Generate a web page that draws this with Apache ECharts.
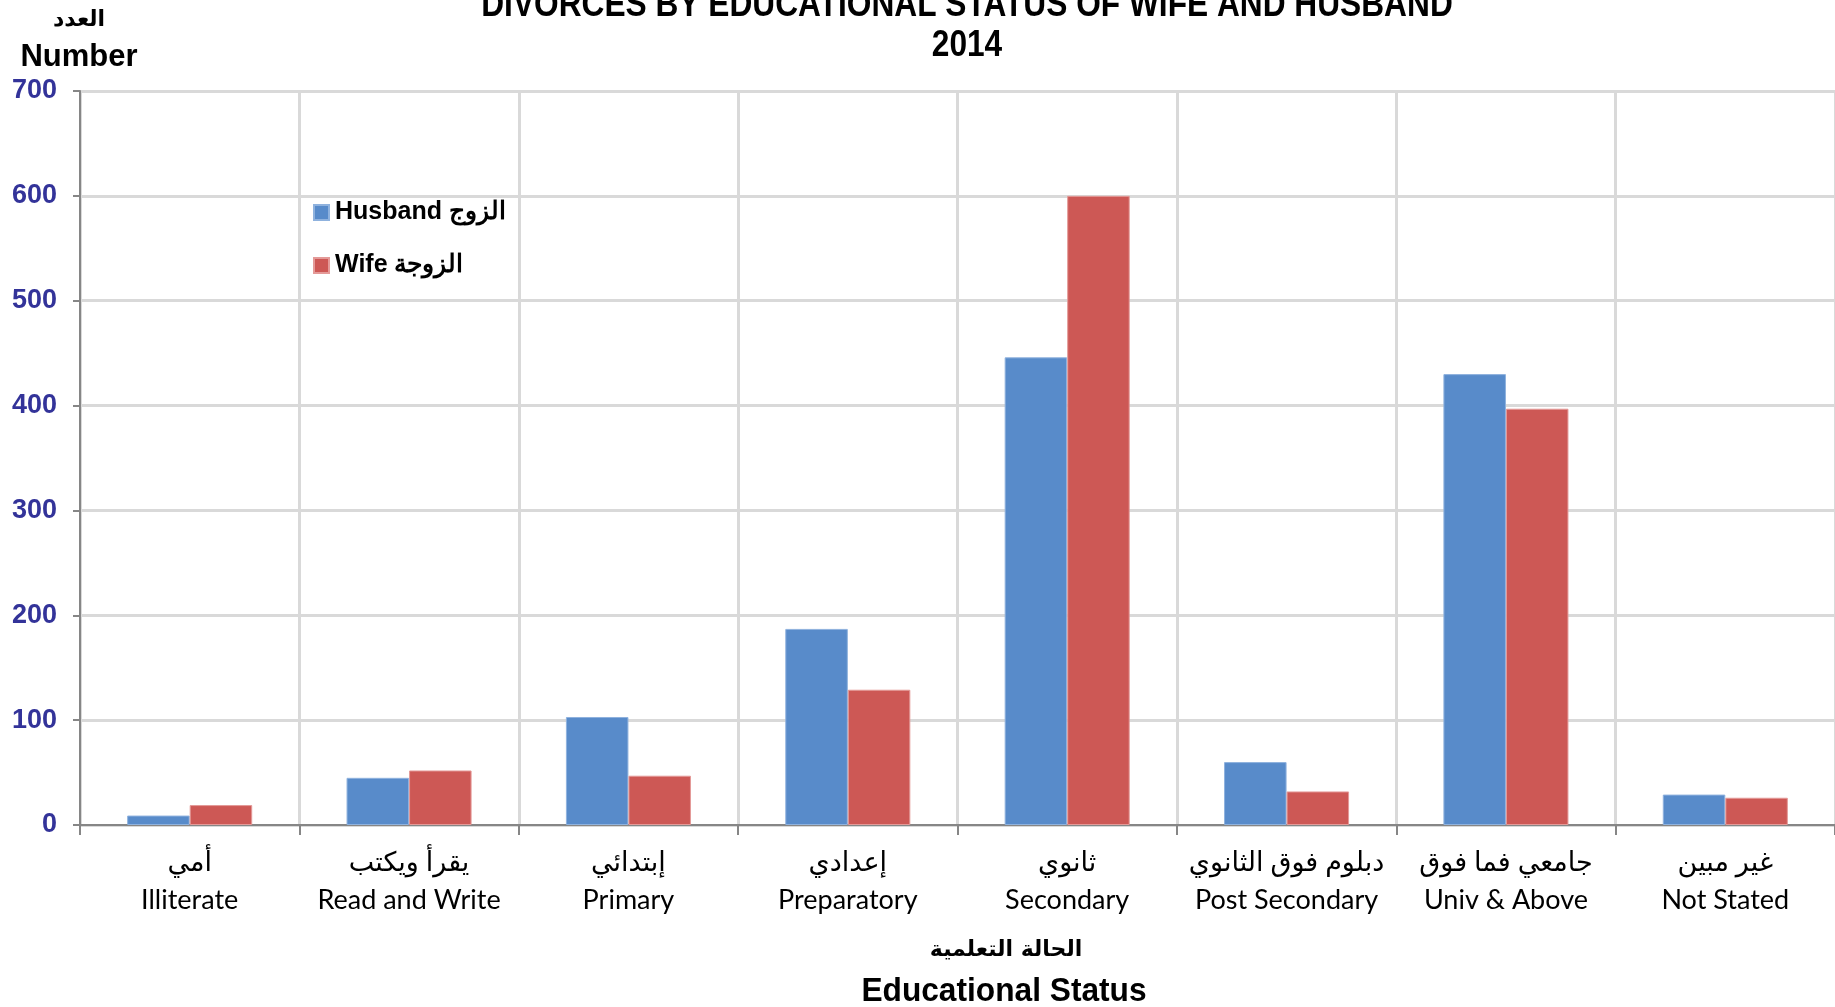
<!DOCTYPE html>
<html>
<head>
<meta charset="utf-8">
<script src="https://cdn.jsdelivr.net/npm/echarts@6/dist/echarts.min.js"></script>
<style>
  html, body { margin: 0; padding: 0; background: #fff; }
  #chart { width: 1835px; height: 1007px; }
</style>
</head>
<body>
<div id="chart"></div>
<script>
// categories: arabic + english
var categoriesAr = ['أمي', 'يقرأ ويكتب', 'إبتدائي', 'إعدادي', 'ثانوي', 'دبلوم فوق الثانوي', 'جامعي فما فوق', 'غير مبين'];
var categoriesEn = ['Illiterate', 'Read and Write', 'Primary', 'Preparatory', 'Secondary', 'Post Secondary', 'Univ & Above', 'Not Stated'];

var husband = [9, 45, 103, 187, 446, 60, 430, 29];
var wife = [19, 52, 47, 129, 600, 32, 397, 26];

var yTicks = [0, 100, 200, 300, 400, 500, 600, 700];

var categories = categoriesEn.map(function (en, i) {
    return categoriesAr[i] + '\n' + en;
});

var myChart = echarts.init(document.getElementById('chart'));

// narrow bold text (title looks like Arial Narrow in the original)
function narrowText(str, x, y, size, sx) {
    return {
        type: 'text', x: x, y: y, scaleX: sx, scaleY: 1,
        style: {
            text: str, fill: '#000',
            font: 'bold ' + size + 'px "Liberation Sans", Arial, sans-serif',
            align: 'center', verticalAlign: 'middle'
        }
    };
}

var option = {
    animation: false,
    graphic: [
        narrowText('DIVORCES BY EDUCATIONAL STATUS OF WIFE AND HUSBAND', 967, 6, 36, 0.88),
        narrowText('2014', 967, 46, 36, 0.88),
        {
            type: 'text', x: 79, y: 20,
            style: { text: 'العدد', fill: '#000', font: 'bold 22px "DejaVu Sans", sans-serif', align: 'center', verticalAlign: 'middle' }
        },
        {
            type: 'text', x: 79, y: 57,
            style: { text: 'Number', fill: '#000', font: 'bold 31px "Liberation Sans", Arial, sans-serif', align: 'center', verticalAlign: 'middle' }
        },
        {
            type: 'text', x: 1006, y: 950,
            style: { text: 'الحالة التعلمية', fill: '#000', font: 'bold 22px "DejaVu Sans", sans-serif', align: 'center', verticalAlign: 'middle' }
        },
        narrowText('Educational Status', 1004, 992, 33, 0.96)
    ],
    legend: {
        orient: 'vertical',
        left: 308, top: 195,
        itemWidth: 15, itemHeight: 15,
        itemGap: 28,
        icon: 'rect',
        textStyle: { fontFamily: 'Liberation Sans', fontWeight: 'bold', fontSize: 25, color: '#000', padding: [0, 0, 0, 1] },
        data: ['Husband الزوج', 'Wife الزوجة']
    },
    grid: { left: 80, right: 0, top: 91, bottom: 182, containLabel: false },
    xAxis: {
        type: 'category',
        data: categories,
        boundaryGap: true,
        axisLine: { lineStyle: { color: '#868686', width: 2 } },
        axisTick: { show: true, interval: 0, length: 10, lineStyle: { color: '#868686', width: 2 } },
        splitLine: { show: true, interval: 0, lineStyle: { color: '#d9d9d9', width: 3 } },
        axisLabel: {
            interval: 0, margin: 18,
            fontFamily: 'Lato, DejaVu Sans', fontSize: 27, lineHeight: 38, color: '#000'
        }
    },
    yAxis: {
        type: 'value',
        min: 0, max: 700, interval: 100,
        axisLine: { show: true, lineStyle: { color: '#868686', width: 2 } },
        axisTick: { show: true, length: 7, lineStyle: { color: '#868686', width: 2 } },
        splitLine: { show: true, lineStyle: { color: '#d9d9d9', width: 3 } },
        axisLabel: {
            margin: 23,
            fontFamily: 'Liberation Sans', fontWeight: 'bold', fontSize: 27, color: '#333399',
            formatter: function (v) { return yTicks.indexOf(v) >= 0 ? String(v) : ''; }
        }
    },
    series: [
        {
            name: 'Husband الزوج',
            type: 'bar',
            data: husband,
            barGap: '0%',
            barCategoryGap: '43%',
            itemStyle: { color: '#588bca', borderColor: '#8fb2de', borderWidth: 1 }
        },
        {
            name: 'Wife الزوجة',
            type: 'bar',
            data: wife,
            itemStyle: { color: '#cd5855', borderColor: '#e49a98', borderWidth: 1 }
        }
    ]
};

myChart.setOption(option);
</script>
</body>
</html>
